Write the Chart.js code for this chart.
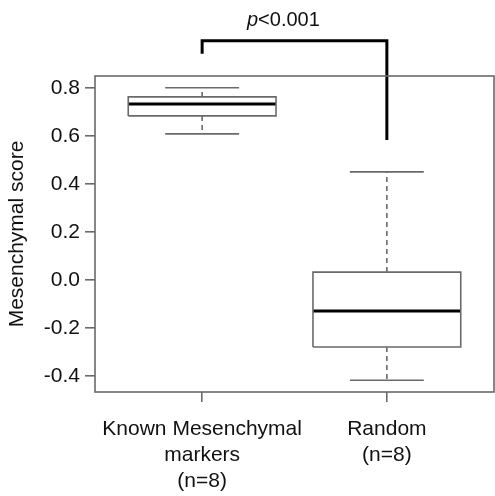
<!DOCTYPE html>
<html>
<head>
<meta charset="utf-8">
<script src="https://cdn.jsdelivr.net/npm/chart.js@4.4.1/dist/chart.umd.min.js"></script>
<style>
html,body{margin:0;padding:0;background:#fff;}
canvas{display:block;}
</style>
</head>
<body>
<canvas id="c" width="495" height="496"></canvas>
<script>
// ---- data ----
const categories = ['Known Mesenchymal markers (n=8)', 'Random (n=8)'];
const categoryLabelLines = [['Known Mesenchymal', 'markers', '(n=8)'], ['Random', '(n=8)']];
const categoryPositions = [1, 2];
const whiskerLow = [0.608, -0.417];
const q1 = [0.683, -0.279];
const median = [0.733, -0.129];
const q3 = [0.762, 0.033];
const whiskerHigh = [0.800, 0.450];
const yTickValues = [-0.4, -0.2, 0.0, 0.2, 0.4, 0.6, 0.8];
const yAxisTitle = 'Mesenchymal score';
// significance bracket (data units)
const bracketTop = 0.996;
const bracketLeftEnd = 0.942;
const bracketRightEnd = 0.583;
const pLabelItalic = 'p';
const pLabelRest = '<0.001';
const pLabelPos = [1.44, 1.079];

// ---- styles ----
const FONT = "'Liberation Sans', Arial, Helvetica, sans-serif";
const GREY = '#6a6a6a';
const BOX_HALF = 0.4, CAP_HALF = 0.2;

const datasets = [];
function seg(points, extra) {
  datasets.push(Object.assign({
    data: points, showLine: true, pointRadius: 0, borderColor: GREY,
    borderWidth: 1.6, fill: false, clip: false, tension: 0
  }, extra || {}));
}
categoryPositions.forEach((x, i) => {
  // box
  seg([{x: x - BOX_HALF, y: q1[i]}, {x: x + BOX_HALF, y: q1[i]}, {x: x + BOX_HALF, y: q3[i]},
       {x: x - BOX_HALF, y: q3[i]}, {x: x - BOX_HALF, y: q1[i]}]);
  // whiskers (dashed)
  seg([{x: x, y: q3[i]}, {x: x, y: whiskerHigh[i]}], {borderDash: [5, 4]});
  seg([{x: x, y: q1[i]}, {x: x, y: whiskerLow[i]}], {borderDash: [5, 4]});
  // caps
  seg([{x: x - CAP_HALF, y: whiskerHigh[i]}, {x: x + CAP_HALF, y: whiskerHigh[i]}]);
  seg([{x: x - CAP_HALF, y: whiskerLow[i]}, {x: x + CAP_HALF, y: whiskerLow[i]}]);
  // median
  seg([{x: x - BOX_HALF, y: median[i]}, {x: x + BOX_HALF, y: median[i]}], {borderColor: '#000', borderWidth: 3});
});
// bracket
seg([{x: categoryPositions[0], y: bracketLeftEnd}, {x: categoryPositions[0], y: bracketTop},
     {x: categoryPositions[1], y: bracketTop}, {x: categoryPositions[1], y: bracketRightEnd}],
    {borderColor: '#000', borderWidth: 3, borderJoinStyle: 'miter', borderCapStyle: 'butt'});

const framePlugin = {
  id: 'frame',
  afterDraw(chart) {
    const {ctx, chartArea: a, scales} = chart;
    ctx.save();
    ctx.strokeStyle = GREY;
    ctx.lineWidth = 1.6;
    ctx.strokeRect(a.left, a.top, a.right - a.left, a.bottom - a.top);
    // p-value label
    const x = scales.x.getPixelForValue(pLabelPos[0]);
    const y = scales.y.getPixelForValue(pLabelPos[1]);
    ctx.fillStyle = '#111';
    ctx.textBaseline = 'middle';
    ctx.font = 'italic 20px ' + FONT;
    const w1 = ctx.measureText(pLabelItalic).width;
    ctx.font = '20px ' + FONT;
    const w2 = ctx.measureText(pLabelRest).width;
    const start = x - (w1 + w2) / 2;
    ctx.font = 'italic 20px ' + FONT;
    ctx.textAlign = 'left';
    ctx.fillText(pLabelItalic, start, y);
    ctx.font = '20px ' + FONT;
    ctx.fillText(pLabelRest, start + w1, y);
    ctx.restore();
  }
};

new Chart(document.getElementById('c'), {
  type: 'scatter',
  data: {datasets},
  options: {
    responsive: false,
    animation: false,
    devicePixelRatio: 1,
    layout: {padding: {top: 76, right: 1, bottom: 0, left: 0}},
    plugins: {legend: {display: false}, tooltip: {enabled: false}},
    scales: {
      x: {
        type: 'linear', min: 0.42, max: 2.58,
        afterBuildTicks: s => { s.ticks = categoryPositions.map(v => ({value: v})); },
        afterFit: s => { s.height = 104; },
        ticks: {
          callback: (v) => categoryLabelLines[categoryPositions.indexOf(v)],
          font: {family: FONT, size: 21, lineHeight: 1.25},
          color: '#111', padding: 14, maxRotation: 0, autoSkip: false
        },
        grid: {drawOnChartArea: false, drawTicks: true, tickLength: 10, color: GREY, lineWidth: 1.6},
        border: {display: false}
      },
      y: {
        type: 'linear', min: -0.466, max: 0.849,
        afterBuildTicks: s => { s.ticks = yTickValues.map(v => ({value: v})); },
        afterFit: s => { s.width = 95; },
        ticks: {
          callback: v => v.toFixed(1),
          font: {family: FONT, size: 21}, color: '#111', padding: 5
        },
        grid: {drawOnChartArea: false, drawTicks: true, tickLength: 10, color: GREY, lineWidth: 1.6},
        border: {display: false},
        title: {display: true, text: yAxisTitle, font: {family: FONT, size: 21}, color: '#111', padding: {top: 5, bottom: 0}}
      }
    }
  },
  plugins: [framePlugin]
});
</script>
</body>
</html>
